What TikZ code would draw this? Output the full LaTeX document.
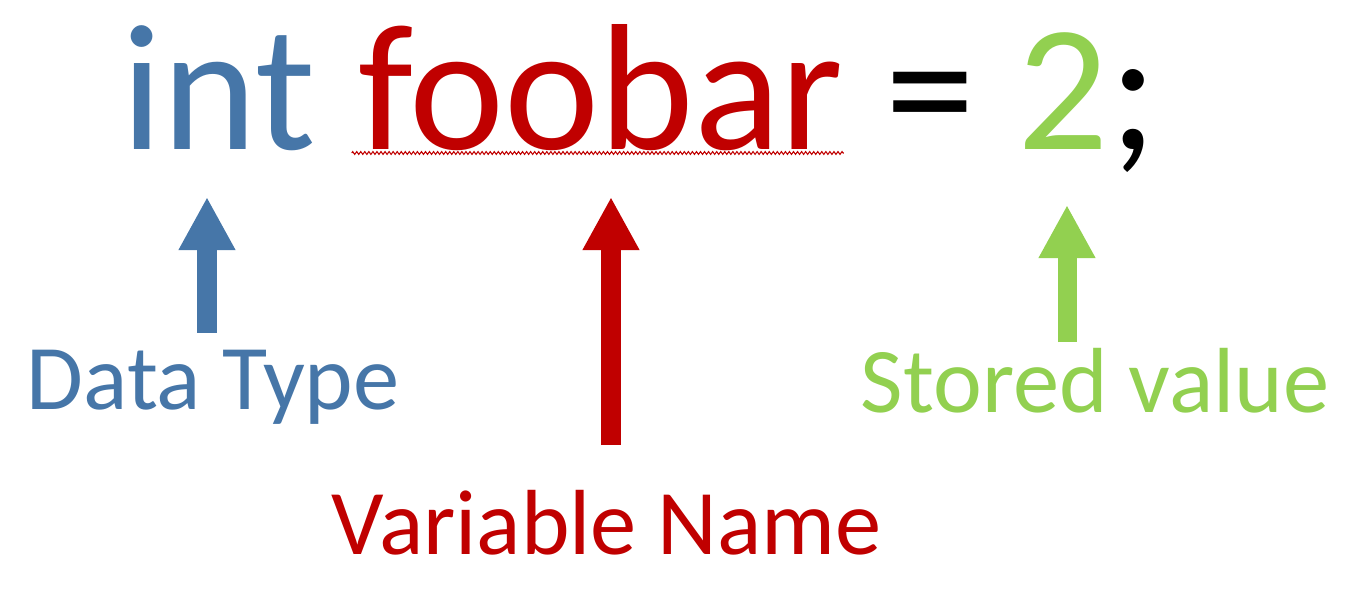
\documentclass[tikz,border=0pt]{standalone}
\usepackage{fontspec}
\setmainfont{Carlito}
\usepackage{tikz}
\usetikzlibrary{positioning,arrows.meta,decorations.pathmorphing}
\definecolor{typeblue}{RGB}{70,118,168}
\definecolor{namered}{RGB}{192,0,0}
\definecolor{valgreen}{RGB}{146,208,80}

\begin{document}
\begin{tikzpicture}[x=0.01cm,y=-0.01cm]
\tikzstyle{token}=[inner sep=0, font=\fontsize{51.2}{60}\selectfont]
\tikzstyle{tag}=[inner sep=0, anchor=base west, font=\fontsize{26.3}{31}\selectfont]
\tikzstyle{connect}=[line width=0.19cm, -{Triangle[length=0.53cm, width=0.53cm]}]
\tikzstyle{squiggle}=[namered, line width=0.3pt, decorate, decoration={zigzag, segment length=1.15pt, amplitude=0.4pt}]
\useasboundingbox (0,0) rectangle (1366,610);
	% the statement
	\node[token, anchor=base west, text=typeblue] (w_int) at (121,150) {int};
	\node[token, base right=0.407cm of w_int, text=namered] (w_name) {foobar};
	\node[token, base right=0.407cm of w_name] (w_eq) {=};
	\node[token, base right=0.407cm of w_eq, text=valgreen] (w_val) {2};
	\node[token, base right=0cm of w_val] (w_semi) {;};
	\draw[squiggle] ([xshift=-0.06cm, yshift=-0.03cm]w_name.base west) -- ([yshift=-0.03cm]w_name.base east);

	% the labels
	\node[tag, text=typeblue] (l_type) at (26,410) {Data Type};
	\node[tag, text=namered] (l_name) at (331,555) {Variable Name};
	\node[tag, text=valgreen] (l_val) at (860,413) {Stored value};

	\coordinate (a_type) at (207,197);
	\coordinate (a_name) at (611,197);
	\coordinate (a_val) at (1067,205);

	\draw[connect, typeblue] ([yshift=0.17cm]a_type |- l_type.north) -- (a_type);
	\draw[connect, namered] ([yshift=0.45cm]a_name |- l_name.north) -- (a_name);
	\draw[connect, valgreen] ([yshift=0.06cm]a_val |- l_val.north) -- (a_val);
\end{tikzpicture}
\end{document}
